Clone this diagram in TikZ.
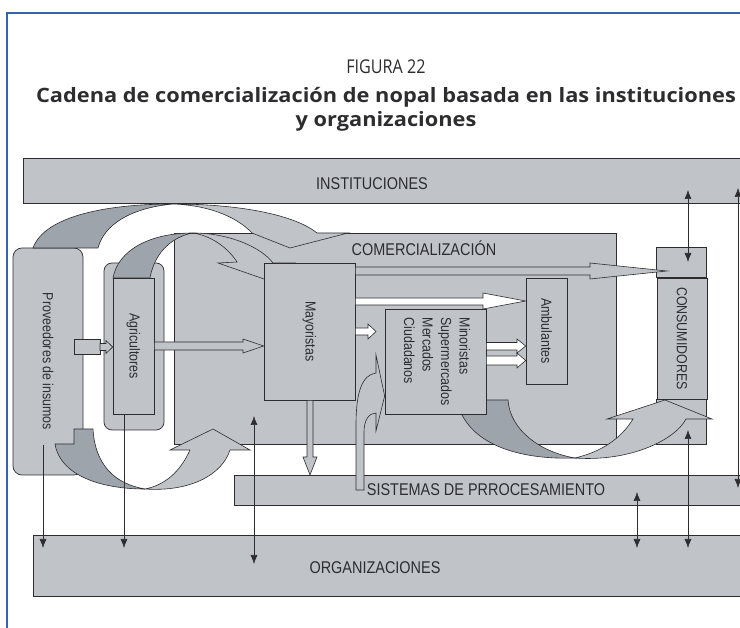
\documentclass[tikz,border=0pt]{standalone}
\usepackage{fontspec}
\setmainfont{Liberation Sans}
\newfontfamily\diag[FakeStretch=0.85]{Liberation Sans}
\newfontfamily\headfont[FakeStretch=0.85]{Open Sans}
\newfontfamily\headbold[FakeStretch=1.1]{Open Sans Bold}
\usetikzlibrary{arrows.meta}
\definecolor{panel}{RGB}{192,196,201}
\definecolor{shade}{RGB}{158,164,171}
\definecolor{ink}{RGB}{45,45,48}
\definecolor{frameblue}{RGB}{52,100,172}

\begin{document}
\begin{tikzpicture}[x=1pt,y=-1pt,
 box/.style={draw=ink,fill=panel,line width=0.7pt,inner sep=0pt,text=ink,font=\diag\fontsize{14.6}{18.5}\selectfont},
 lbl/.style={anchor=base,inner sep=0pt,text=ink,font=\diag\fontsize{17}{20}\selectfont},
 flow/.style={draw=ink,fill=panel,line width=0.6pt},
 twist/.style={flow,fill=shade},
 hollow/.style={flow,fill=white},
 link/.style={draw=ink,line width=0.6pt,>={Latex[length=9pt,width=7pt]},->},
 link2/.style={link,<->}]
\useasboundingbox (0,0) rectangle (740,628);
\draw[frameblue,line width=1.6pt] (7,630) -- (7,13) -- (742,13);
\node[anchor=base,text=ink,font=\headfont\fontsize{19}{22}\selectfont] (fig) at (386,74) {FIGURA 22};
\node[anchor=base,text=ink,font=\headbold\fontsize{19.8}{24}\selectfont] (cap1) at (386,103) {Cadena de comercialización de nopal basada en las instituciones};
\node[anchor=base,text=ink,font=\headbold\fontsize{19.8}{24}\selectfont] (cap2) at (386,127) {y organizaciones};

\node[box,minimum width=719pt,minimum height=45pt] (inst) at (382.5,180.5) {};
\node[lbl] (instl) at (372,190) {INSTITUCIONES};
\node[box,minimum width=709pt,minimum height=61pt] (org) at (387.5,565.5) {};
\node[lbl] (orgl) at (375,573) {ORGANIZACIONES};
\node[box,minimum width=508pt,minimum height=30pt] (sist) at (488,490) {};
\node[lbl] (sistl) at (486,496) {SISTEMAS DE PRROCESAMIENTO};
\node[box,minimum width=442pt,minimum height=211pt] (comer) at (395,338.5) {};
\node[lbl] (comerl) at (424,256) {COMERCIALIZACIÓN};

\node[box,rounded corners=9pt,minimum width=70pt,minimum height=227pt] (prov) at (48,361.5) {\rotatebox{-90}{Proveedores de insumos}};
\node[box,rounded corners=8pt,minimum width=60pt,minimum height=167pt] (agrio) at (134,346.5) {};
\node[box,minimum width=41pt,minimum height=136pt] (agri) at (133.5,346) {\rotatebox{-90}{Agricultores}};

\draw[twist] (33,248) .. controls (45,215) and (110,204) .. (173,204) .. controls (130,208) and (104,225) .. (98,248) -- cycle;
\draw[flow] (173,204) .. controls (240,204) and (295,215) .. (317,233) -- (348,233) -- (290,248) -- (252,233) .. controls (235,215) and (205,205) .. (173,204) -- cycle;
\draw[twist] (113,278) .. controls (118,250) and (150,233) .. (193,233) .. controls (175,236) and (155,250) .. (150,278) -- cycle;
\draw[flow] (193,233) .. controls (230,233) and (262,248) .. (273,263) -- (295,263) -- (264,279) -- (218,263) -- (237,262) .. controls (228,248) and (212,236) .. (193,233) -- cycle;
\draw[twist] (55,444) .. controls (60,475) and (100,489) .. (145,489) .. controls (115,484) and (95,465) .. (93,429) -- (74,429) -- (74,444) -- cycle;
\draw[flow] (145,489) .. controls (190,492) and (222,475) .. (230,450) -- (250,450) -- (213,429) -- (170,450) -- (190,450) .. controls (180,472) and (165,485) .. (145,489) -- cycle;

\node[box,minimum width=91pt,minimum height=137pt] (may) at (309.5,331.5) {\rotatebox{-90}{Mayoristas}};
\node[box,minimum width=41pt,minimum height=106pt] (amb) at (546.5,331) {\rotatebox{-90}{Ambulantes}};
\node[box,minimum width=50pt,minimum height=121pt] (cons) at (682,338.5) {\rotatebox{-90}{CONSUMIDORES}};
\draw[flow,line width=0.7pt] (cons.north west) rectangle ++(50,-30);
\draw[flow,line width=0.7pt] (cons.south west) rectangle ++(50,45);

\draw[twist] (458,400) -- (508,400) .. controls (510,430) and (540,452) .. (575,458) .. controls (520,460) and (470,445) .. (458,405) -- cycle;
\draw[flow] (575,458) .. controls (630,462) and (675,440) .. (686,419) -- (712,419) -- (665,400) -- (607,419) -- (633,419) .. controls (620,440) and (600,452) .. (575,458) -- cycle;
\node[box,minimum width=101pt,minimum height=105pt] (mino) at (435.5,361.5) {\rotatebox{-90}{\begin{tabular}{@{}l@{}}Minoristas\\Supermercados\\Mercados\\Ciudadanos\end{tabular}}};

\draw[flow] (74,339) rectangle (100,354);
\draw[flow] (100,343.5) -- (106,343.5) -- (106,340.5) -- (agri.west |- 0,347) -- (106,353.5) -- (106,350.5) -- (100,350.5) -- cycle;
\draw[flow] (agri.east |- 0,342) -- (243,342) -- (243,339) -- (may.west |- 0,346) -- (243,353) -- (243,350) -- (agri.east |- 0,350) -- cycle;
\draw[flow] (may.east |- 0,267) -- (590,267) -- (590,263) -- (667,271) -- (590,279) -- (590,275) -- (may.east |- 0,275) -- cycle;
\draw[hollow] (may.east |- 0,298) -- (483,298) -- (483,293) -- (amb.west |- 0,301) -- (483,309) -- (483,305) -- (may.east |- 0,305) -- cycle;
\draw[hollow] (may.east |- 0,328) -- (368,328) -- (368,324) -- (376,331.5) -- (368,339) -- (368,335) -- (may.east |- 0,335) -- cycle;
\draw[hollow] (mino.east |- 0,342.5) -- (517,342.5) -- (517,339) -- (amb.west |- 0,346) -- (517,353) -- (517,350) -- (mino.east |- 0,350) -- cycle;
\draw[hollow] (mino.east |- 0,356) -- (517,356) -- (517,353) -- (amb.west |- 0,360.5) -- (517,368) -- (517,365) -- (mino.east |- 0,365) -- cycle;
\draw[flow] (may.south -| 307,0) -- (307,457) -- (303,457) -- (310,475) -- (317,457) -- (313,457) -- (may.south -| 313,0) -- cycle;
\draw[flow] (356,490) -- (356,425) .. controls (356,392) and (362,375) .. (376,373) -- (376,355) -- (mino.west |- 0,396) -- (376,431) -- (376,413) .. controls (369,413) and (364,420) .. (364,432) -- (364,490) -- cycle;

\draw[link] (43,445) -- (43,548);
\draw[link] (agri.south -| 124,0) -- (124,548);
\draw[link2] (254,416) -- (254,564);
\draw[link2] (637,492) -- (637,548);
\draw[link2] (688,430) -- (688,548);
\draw[link2] (688,190) -- (688,262);
\draw[link2] (738,188) -- (738,488);
\end{tikzpicture}
\end{document}
